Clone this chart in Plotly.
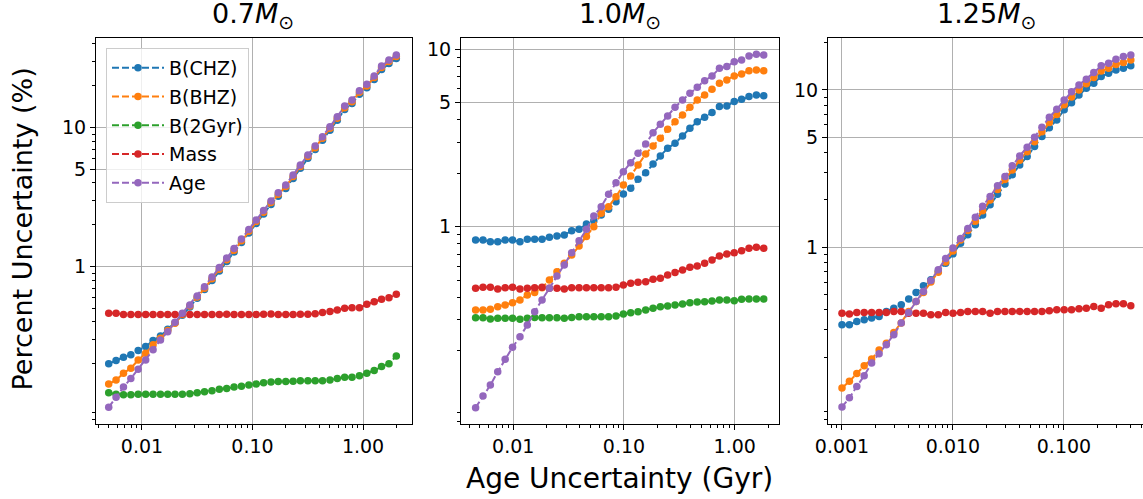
import plotly.graph_objects as go

# ---------------- data ----------------
series_names = ["B(CHZ)", "B(BHZ)", "B(2Gyr)", "Mass", "Age"]
series_colors = ["#1f77b4", "#ff7f0e", "#2ca02c", "#d62728", "#9467bd"]

panel_titles = ["0.7<i>M</i><sub>⊙</sub>", "1.0<i>M</i><sub>⊙</sub>", "1.25<i>M</i><sub>⊙</sub>"]

# --- 0.7 Msun ---
x_07 = [0.005, 0.00583, 0.0068, 0.00793, 0.00924, 0.0108, 0.0126, 0.0147, 0.0171, 0.0199,
        0.0232, 0.0271, 0.0316, 0.0368, 0.043, 0.0501, 0.0584, 0.0681, 0.0794, 0.0926,
        0.108, 0.126, 0.147, 0.171, 0.200, 0.233, 0.271, 0.317, 0.369, 0.430,
        0.502, 0.585, 0.682, 0.795, 0.928, 1.082, 1.262, 1.471, 1.716, 2.000]
chz_07 = [0.200, 0.211, 0.223, 0.232, 0.249, 0.266, 0.294, 0.317, 0.354, 0.395,
          0.447, 0.513, 0.592, 0.684, 0.794, 0.929, 1.089, 1.274, 1.493, 1.746,
          2.046, 2.393, 2.805, 3.214, 3.656, 4.315, 5.093, 6.012, 6.966, 8.128,
          9.594, 11.32, 13.52, 14.93, 17.42, 19.36, 22.23, 26.24, 28.97, 31.48]
bhz_07 = [0.143, 0.153, 0.171, 0.186, 0.213, 0.238, 0.274, 0.305, 0.347, 0.392,
          0.452, 0.521, 0.605, 0.698, 0.819, 0.957, 1.122, 1.312, 1.538, 1.799,
          2.109, 2.466, 2.891, 3.311, 3.767, 4.446, 5.248, 6.194, 7.178, 8.375,
          9.886, 11.67, 13.93, 15.38, 17.95, 19.95, 22.91, 27.04, 29.85, 32.43]
g2_07 = [0.124, 0.121, 0.120, 0.120, 0.121, 0.121, 0.121, 0.121, 0.121, 0.121,
         0.121, 0.122, 0.124, 0.126, 0.128, 0.131, 0.133, 0.136, 0.138, 0.141,
         0.143, 0.146, 0.148, 0.149, 0.149, 0.150, 0.151, 0.151, 0.151, 0.151,
         0.153, 0.157, 0.160, 0.160, 0.164, 0.171, 0.179, 0.191, 0.200, 0.228]
mass_07 = [0.462, 0.463, 0.452, 0.452, 0.453, 0.452, 0.452, 0.452, 0.453, 0.452,
           0.458, 0.452, 0.452, 0.453, 0.452, 0.452, 0.455, 0.452, 0.452, 0.453,
           0.452, 0.455, 0.457, 0.453, 0.452, 0.452, 0.455, 0.455, 0.458, 0.467,
           0.475, 0.488, 0.502, 0.507, 0.507, 0.536, 0.560, 0.582, 0.598, 0.633]
age_07 = [0.0973, 0.115, 0.136, 0.157, 0.183, 0.213, 0.252, 0.297, 0.340, 0.398,
          0.462, 0.530, 0.615, 0.718, 0.841, 0.984, 1.153, 1.349, 1.581, 1.849,
          2.168, 2.535, 2.972, 3.404, 3.873, 4.571, 5.395, 6.368, 7.379, 8.610,
          10.16, 11.99, 14.32, 15.81, 18.45, 20.51, 23.55, 27.80, 30.69, 33.34]

# --- 1.0 Msun ---
x_10 = [0.00457, 0.00533, 0.00621, 0.00724, 0.00845, 0.00985, 0.0115, 0.0134, 0.0156, 0.0182,
        0.0212, 0.0248, 0.0289, 0.0337, 0.0393, 0.0458, 0.0534, 0.0623, 0.0726, 0.0847,
        0.0987, 0.115, 0.134, 0.157, 0.183, 0.213, 0.248, 0.289, 0.338, 0.394,
        0.459, 0.535, 0.624, 0.728, 0.849, 0.990, 1.154, 1.346, 1.569, 1.828]
chz_10 = [0.841, 0.841, 0.823, 0.823, 0.841, 0.841, 0.823, 0.849, 0.849, 0.849,
          0.871, 0.887, 0.897, 0.950, 0.966, 1.035, 1.081, 1.164, 1.253, 1.384,
          1.528, 1.644, 1.849, 2.014, 2.254, 2.506, 2.767, 2.951, 3.243, 3.589,
          3.908, 4.140, 4.395, 4.753, 4.786, 5.070, 5.224, 5.408, 5.521, 5.470]
bhz_10 = [0.339, 0.339, 0.342, 0.354, 0.362, 0.373, 0.386, 0.412, 0.425, 0.453,
          0.501, 0.557, 0.622, 0.692, 0.778, 0.879, 1.000, 1.189, 1.297, 1.476,
          1.718, 1.932, 2.228, 2.570, 2.851, 3.148, 3.540, 3.908, 4.266, 4.710,
          5.176, 5.521, 5.957, 6.427, 6.714, 7.063, 7.261, 7.568, 7.638, 7.568]
g2_10 = [0.307, 0.307, 0.302, 0.305, 0.305, 0.305, 0.301, 0.305, 0.308, 0.307,
         0.307, 0.307, 0.305, 0.308, 0.311, 0.311, 0.311, 0.311, 0.311, 0.314,
         0.322, 0.327, 0.332, 0.339, 0.347, 0.354, 0.357, 0.362, 0.367, 0.373,
         0.376, 0.378, 0.381, 0.386, 0.386, 0.383, 0.390, 0.391, 0.391, 0.391]
mass_10 = [0.450, 0.455, 0.455, 0.446, 0.453, 0.455, 0.446, 0.450, 0.453, 0.455,
           0.450, 0.450, 0.446, 0.453, 0.453, 0.453, 0.453, 0.453, 0.453, 0.455,
           0.469, 0.480, 0.486, 0.490, 0.505, 0.512, 0.535, 0.551, 0.570, 0.590,
           0.600, 0.622, 0.649, 0.684, 0.701, 0.713, 0.732, 0.755, 0.765, 0.755]
age_10 = [0.0955, 0.111, 0.128, 0.152, 0.179, 0.209, 0.240, 0.279, 0.332, 0.386,
          0.450, 0.527, 0.608, 0.713, 0.832, 0.966, 1.148, 1.297, 1.524, 1.770,
          2.042, 2.296, 2.594, 2.924, 3.388, 3.776, 4.207, 4.710, 5.176, 5.649,
          6.109, 6.653, 7.063, 7.816, 7.980, 8.511, 8.710, 9.162, 9.376, 9.290]

# --- 1.25 Msun (no B(2Gyr) curve) ---
x_125 = [0.001, 0.001166, 0.00136, 0.001585, 0.00185, 0.00216, 0.00251, 0.00293, 0.00342, 0.00399,
         0.00465, 0.00542, 0.00632, 0.00737, 0.00859, 0.0100, 0.0117, 0.0136, 0.0159, 0.0185,
         0.0216, 0.0252, 0.0294, 0.0342, 0.0399, 0.0466, 0.0543, 0.0633, 0.0738, 0.0861,
         0.1004, 0.117, 0.1365, 0.159, 0.1856, 0.2164, 0.2523, 0.2942, 0.3431, 0.400]
chz_125 = [0.321, 0.321, 0.337, 0.345, 0.354, 0.362, 0.390, 0.409, 0.430, 0.467,
           0.514, 0.568, 0.619, 0.700, 0.791, 0.906, 1.059, 1.197, 1.387, 1.603,
           1.858, 2.173, 2.523, 2.884, 3.334, 3.767, 4.365, 5.047, 5.754, 6.442,
           7.464, 8.299, 9.290, 10.26, 11.04, 12.16, 12.76, 13.40, 13.74, 14.22]
bhz_125 = [0.127, 0.140, 0.157, 0.176, 0.194, 0.222, 0.245, 0.286, 0.329, 0.390,
           0.451, 0.514, 0.600, 0.692, 0.804, 0.944, 1.109, 1.276, 1.462, 1.706,
           1.995, 2.328, 2.692, 3.090, 3.573, 4.046, 4.677, 5.408, 6.194, 6.966,
           8.035, 9.016, 10.00, 10.96, 11.97, 13.18, 13.74, 14.52, 14.96, 15.49]
g2_125 = None
mass_125 = [0.380, 0.375, 0.384, 0.384, 0.384, 0.384, 0.384, 0.390, 0.390, 0.380,
            0.380, 0.380, 0.371, 0.371, 0.384, 0.380, 0.384, 0.390, 0.390, 0.390,
            0.380, 0.390, 0.390, 0.390, 0.390, 0.390, 0.390, 0.390, 0.394, 0.399,
            0.399, 0.399, 0.405, 0.409, 0.419, 0.409, 0.430, 0.436, 0.436, 0.424]
age_125 = [0.0962, 0.110, 0.130, 0.152, 0.183, 0.210, 0.239, 0.277, 0.329, 0.384,
           0.451, 0.522, 0.614, 0.718, 0.845, 0.986, 1.135, 1.312, 1.549, 1.820,
           2.099, 2.455, 2.812, 3.289, 3.802, 4.325, 5.000, 5.794, 6.699, 7.534,
           8.630, 9.750, 10.76, 11.70, 12.88, 14.22, 14.79, 15.67, 16.29, 16.67]

# tick values / labels
xtick_vals = [[0.01, 0.1, 1.0], [0.01, 0.1, 1.0], [0.001, 0.01, 0.1]]
xtick_text = [["0.01", "0.10", "1.00"], ["0.01", "0.10", "1.00"], ["0.001", "0.010", "0.100"]]
ytick_vals = [1, 5, 10]
ytick_text = ["1", "5", "10"]
xminor = [
    [0.004, 0.005, 0.006, 0.007, 0.008, 0.009, 0.02, 0.03, 0.04, 0.05, 0.06, 0.07, 0.08, 0.09,
     0.2, 0.3, 0.4, 0.5, 0.6, 0.7, 0.8, 0.9, 2],
    [0.004, 0.005, 0.006, 0.007, 0.008, 0.009, 0.02, 0.03, 0.04, 0.05, 0.06, 0.07, 0.08, 0.09,
     0.2, 0.3, 0.4, 0.5, 0.6, 0.7, 0.8, 0.9, 2],
    [0.0008, 0.0009, 0.002, 0.003, 0.004, 0.005, 0.006, 0.007, 0.008, 0.009,
     0.02, 0.03, 0.04, 0.05, 0.06, 0.07, 0.08, 0.09, 0.2, 0.3, 0.4, 0.5],
]
yminor = [0.08, 0.09, 0.2, 0.3, 0.4, 0.5, 0.6, 0.7, 0.8, 0.9, 2, 3, 4, 6, 7, 8, 9, 20, 30, 40]

panels = [
    dict(x=x_07, ys=[chz_07, bhz_07, g2_07, mass_07, age_07]),
    dict(x=x_10, ys=[chz_10, bhz_10, g2_10, mass_10, age_10]),
    dict(x=x_125, ys=[chz_125, bhz_125, g2_125, mass_125, age_125]),
]

# ---------------- layout geometry ----------------
W, H = 1143, 499
x_dom_px = [(96, 412), (461, 779), (828, 1143)]
y_dom_px = (37.7, 424)
x_ranges = [(-2.416, 0.443), (-2.472, 0.400), (-3.126, -0.288)]
y_ranges = [(-1.132, 1.647), (-1.112, 1.065), (-1.125, 1.332)]

FONT = "DejaVu Sans"
fig = go.Figure()

for p, panel in enumerate(panels):
    xa = "x" if p == 0 else f"x{p+1}"
    ya = "y" if p == 0 else f"y{p+1}"
    for s, (name, col) in enumerate(zip(series_names, series_colors)):
        yv = panel["ys"][s]
        if yv is None:
            continue
        fig.add_trace(go.Scatter(
            x=panel["x"], y=yv, name=name, mode="lines+markers",
            line=dict(color=col, width=2, dash="7px,3px"),
            marker=dict(color=col, size=7.5, line=dict(width=0)),
            xaxis=xa, yaxis=ya, showlegend=(p == 0),
            legendgroup=name,
        ))

layout = dict(
    width=W, height=H, margin=dict(l=0, r=0, t=0, b=0, pad=0),
    paper_bgcolor="white", plot_bgcolor="white",
    font=dict(family=FONT, size=19, color="black"),
    template="none",
    showlegend=True,
    legend=dict(
        x=106 / W, y=1 - 48 / H, xanchor="left", yanchor="top",
        bgcolor="rgba(255,255,255,0.8)", bordercolor="#cccccc", borderwidth=1,
        font=dict(family=FONT, size=19, color="black"),
        itemwidth=52, tracegroupgap=1,
    ),
)

for p in range(3):
    xk = "xaxis" if p == 0 else f"xaxis{p+1}"
    yk = "yaxis" if p == 0 else f"yaxis{p+1}"
    ya = "y" if p == 0 else f"y{p+1}"
    xa = "x" if p == 0 else f"x{p+1}"
    x0, x1 = x_dom_px[p]
    layout[xk] = dict(
        type="log", range=list(x_ranges[p]), domain=[x0 / W, x1 / W], anchor=ya,
        tickmode="array", tickvals=xtick_vals[p], ticktext=xtick_text[p],
        ticks="outside", ticklen=5, tickwidth=1.1, tickcolor="black",
        tickfont=dict(family=FONT, size=19, color="black"),
        showgrid=True, gridcolor="#b0b0b0", gridwidth=1.1,
        showline=True, linecolor="black", linewidth=1.1, mirror=True,
        zeroline=False, automargin=False,
        minor=dict(tickmode="array", tickvals=xminor[p], ticks="outside",
                   ticklen=3, tickwidth=0.9, tickcolor="black", showgrid=False),
    )
    layout[yk] = dict(
        type="log", range=list(y_ranges[p]),
        domain=[1 - y_dom_px[1] / H, 1 - y_dom_px[0] / H], anchor=xa,
        tickmode="array", tickvals=ytick_vals, ticktext=ytick_text,
        ticks="outside", ticklen=5, tickwidth=1.1, tickcolor="black",
        tickfont=dict(family=FONT, size=19, color="black"),
        showgrid=True, gridcolor="#b0b0b0", gridwidth=1.1,
        showline=True, linecolor="black", linewidth=1.1, mirror=True,
        zeroline=False, automargin=False,
        minor=dict(tickmode="array", tickvals=yminor, ticks="outside",
                   ticklen=3, tickwidth=0.9, tickcolor="black", showgrid=False),
    )

annotations = []
title_cx = [253, 620, 986]
for p in range(3):
    annotations.append(dict(
        text=panel_titles[p], x=title_cx[p] / W, y=1 - 35 / H, xref="paper", yref="paper",
        xanchor="center", yanchor="bottom", showarrow=False,
        font=dict(family=FONT, size=27, color="black"),
    ))
annotations.append(dict(
    text="Age Uncertainty (Gyr)", x=619 / W, y=1 - 497 / H, xref="paper", yref="paper",
    xanchor="center", yanchor="bottom", showarrow=False,
    font=dict(family=FONT, size=28, color="black"),
))
annotations.append(dict(
    text="Percent Uncertainty (%)", x=4 / W, y=1 - 229 / H, xref="paper", yref="paper",
    xanchor="left", yanchor="middle", showarrow=False, textangle=-90,
    font=dict(family=FONT, size=27, color="black"),
))
layout["annotations"] = annotations

fig.update_layout(**layout)
fig.write_html("out.html")
